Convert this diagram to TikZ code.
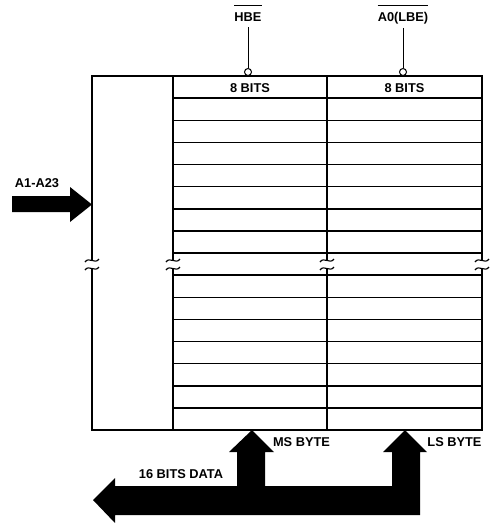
\documentclass[tikz,border=0pt]{standalone}
\usepackage{fontspec}
\setmainfont{Liberation Sans}

\begin{document}
\begin{tikzpicture}[x=1pt,y=-1pt,font=\fontsize{12.8}{14}\selectfont\bfseries]
        % Define block styles
        \tikzstyle{frame} = [draw, line width=2pt]
        \tikzstyle{row} = [draw, line width=1.5pt]
        \tikzstyle{txt} = [inner sep=0pt]
        \tikzstyle{bubble} = [circle, draw, line width=1pt, fill=white, inner sep=0pt, minimum size=7pt]
        \tikzstyle{line} = [draw, line width=1pt]
        \tikzstyle{brk} = [draw, line width=1.1pt]
        \tikzstyle{fatarrow} = [fill=black]

        \useasboundingbox (0,0) rectangle (490,523);

        % Memory array
        \draw [frame] (92,261) -- (92,76) -- (482,76) -- (482,261);
        \draw [frame] (92,268) -- (92,430) -- (482,430) -- (482,268);
        \foreach \x in {173,327} {
            \draw [frame] (\x,76) -- (\x,261);
            \draw [frame] (\x,268) -- (\x,430);
        }
        \foreach \k in {1,...,15}
            \draw [row] (173,76+22.125*\k) -- (482,76+22.125*\k);

        % Break marks
        \foreach \x in {92,173,327,482} {
            \draw [brk] (\x-7,262) .. controls (\x-3,256) and (\x+3,265) .. (\x+7,259);
            \draw [brk] (\x-7,270) .. controls (\x-3,264) and (\x+3,273) .. (\x+7,267);
        }

        % Nodes
        \node [txt] (msbits) at (250,88) {8 BITS};
        \node [txt] (lsbits) at (404.5,88) {8 BITS};
        \node [txt, anchor=base] (hbe) at (248,21) {HBE};
        \node [txt, anchor=base] (lbe) at (403,21) {A0(LBE)};
        \node [bubble] (hbedot) at (248,72) {};
        \node [bubble] (lbedot) at (403,72) {};
        \node [txt] (addr) at (37,183) {A1-A23};
        \node [txt] (msbyte) at (301.5,442) {MS BYTE};
        \node [txt] (lsbyte) at (454.5,442) {LS BYTE};
        \node [txt] (data) at (181,474) {16 BITS DATA};

        % Overlines
        \draw [line] (hbe.west |- 0,5) -- (hbe.east |- 0,5);
        \draw [line] (lbe.west |- 0,5) -- (lbe.east |- 0,5);

        % Arrows
        \path [line, shorten <=6pt] (hbe.south) -- (hbedot);
        \path [line, shorten <=4pt] (lbe.south) -- (lbedot);

        \fill [fatarrow] (12,196) -- (70,196) -- (70,187) -- (92,204.5)
            -- (70,222) -- (70,212) -- (12,212) -- cycle;

        \fill [fatarrow] (93,500) -- (115,478) -- (115,486) -- (237,486)
            -- (237,452) -- (229,452) -- (252,430) -- (274,452) -- (265,452)
            -- (265,486) -- (392,486) -- (392,452) -- (383,452) -- (405,430)
            -- (427,452) -- (420,452) -- (420,515) -- (115,515) -- (115,523) -- cycle;

\end{tikzpicture}
\end{document}
